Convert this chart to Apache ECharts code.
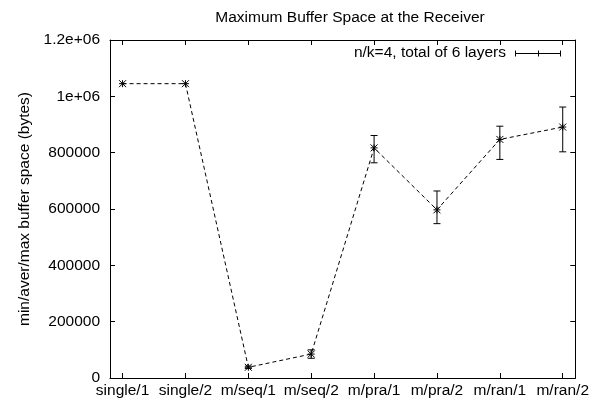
<!DOCTYPE html>
<html>
<head>
<meta charset="utf-8">
<script src="https://cdn.jsdelivr.net/npm/echarts@6/dist/echarts.min.js"></script>
<style>html,body{margin:0;padding:0;background:#fff}#c{width:592px;height:404px}</style>
</head>
<body>
<div id="c"></div>
<script>
var categories = ['single/1','single/2','m/seq/1','m/seq/2','m/pra/1','m/pra/2','m/ran/1','m/ran/2'];
var avgValues = [1045000, 1045000, 38000, 85000, 817000, 597000, 847000, 891000];
var minValues = [1045000, 1045000, 34000, 70000, 764000, 548000, 776000, 803000];
var maxValues = [1045000, 1045000, 42000, 100000, 861000, 664000, 894000, 962000];
var yTicks = [0, 200000, 400000, 600000, 800000, 1000000, 1200000];
var yTickLabels = ['0','200000','400000','600000','800000','1e+06','1.2e+06'];
var titleText = 'Maximum Buffer Space at the Receiver';
var yAxisTitle = 'min/aver/max buffer space (bytes)';
var legendText = 'n/k=4, total of 6 layers';

var FONT = 'Liberation Sans';
var FS = 15.5;
var catIdx = categories.map(function(_, i){ return i; });

var lineData = avgValues.map(function(v, i){ return [i, v]; });
var errData = avgValues.map(function(v, i){ return [i, minValues[i], maxValues[i], v]; });

function renderErr(params, api) {
  var x = api.value(0);
  var lo = api.coord([x, api.value(1)]);
  var hi = api.coord([x, api.value(2)]);
  var mid = api.coord([x, api.value(3)]);
  var cw = 3.5, s = 3.5;
  var st = {stroke: '#000', lineWidth: 1};
  var children = [];
  if (Math.abs(hi[1] - lo[1]) > 0.5) {
    children.push({type:'line', shape:{x1:lo[0], y1:lo[1], x2:hi[0], y2:hi[1]}, style:st});
    children.push({type:'line', shape:{x1:lo[0]-cw, y1:lo[1], x2:lo[0]+cw, y2:lo[1]}, style:st});
    children.push({type:'line', shape:{x1:hi[0]-cw, y1:hi[1], x2:hi[0]+cw, y2:hi[1]}, style:st});
  }
  var cx = mid[0], cy = mid[1];
  children.push({type:'line', shape:{x1:cx-s, y1:cy, x2:cx+s, y2:cy}, style:st});
  children.push({type:'line', shape:{x1:cx, y1:cy-s, x2:cx, y2:cy+s}, style:st});
  children.push({type:'line', shape:{x1:cx-s, y1:cy-s, x2:cx+s, y2:cy+s}, style:st});
  children.push({type:'line', shape:{x1:cx-s, y1:cy+s, x2:cx+s, y2:cy-s}, style:st});
  return {type:'group', children: children};
}

var chart = echarts.init(document.getElementById('c'), null, {renderer:'canvas'});
var axisLine = {show:true, onZero:false, lineStyle:{color:'#000', width:1}};
var lg = {stroke:'#000', lineWidth:1};
chart.setOption({
  animation: false,
  backgroundColor: '#fff',
  textStyle: {fontFamily: FONT},
  title: {
    text: titleText, left: 345, top: 5, textAlign: 'center',
    textStyle: {fontFamily: FONT, fontSize: FS, fontWeight: 'normal', color: '#000'}
  },
  grid: {left: 110, right: 12, top: 40, bottom: 26, containLabel: false},
  xAxis: [{
    type: 'value', min: -0.2, max: 7.2, position: 'bottom',
    axisLine: axisLine, splitLine: {show:false},
    axisTick: {show:true, inside:true, length:5, customValues: catIdx, lineStyle:{color:'#000'}},
    axisLabel: {show:true, customValues: catIdx, margin: 5, color:'#000', fontFamily: FONT, fontSize: FS,
      formatter: function(v){ return categories[Math.round(v)]; }}
  }, {
    type: 'value', min: -0.2, max: 7.2, position: 'top',
    axisLine: axisLine, splitLine: {show:false},
    axisTick: {show:true, inside:true, length:5, customValues: catIdx, lineStyle:{color:'#000'}},
    axisLabel: {show:false}
  }],
  yAxis: [{
    type: 'value', min: 0, max: 1200000, interval: 200000, position: 'left',
    name: yAxisTitle, nameLocation: 'middle', nameGap: 77, nameRotate: 90,
    nameTextStyle: {fontFamily: FONT, fontSize: FS, color: '#000'},
    axisLine: axisLine, splitLine: {show:false},
    axisTick: {show:true, inside:true, length:5, lineStyle:{color:'#000'}},
    axisLabel: {color:'#000', fontFamily: FONT, fontSize: FS, margin: 10,
      formatter: function(v){ var i = yTicks.indexOf(v); return i >= 0 ? yTickLabels[i] : ''; }}
  }, {
    type: 'value', min: 0, max: 1200000, interval: 200000, position: 'right',
    axisLine: axisLine, splitLine: {show:false},
    axisTick: {show:true, inside:true, length:5, lineStyle:{color:'#000'}},
    axisLabel: {show:false}
  }],
  graphic: [
    {type:'text', x: 506, y: 53, style:{text: legendText, font: FS + 'px ' + FONT, fill:'#000', textAlign:'right', textVerticalAlign:'middle'}},
    {type:'line', shape:{x1:515, y1:53.5, x2:561, y2:53.5}, style:lg},
    {type:'line', shape:{x1:515.5, y1:50.5, x2:515.5, y2:56.5}, style:lg},
    {type:'line', shape:{x1:560.5, y1:50.5, x2:560.5, y2:56.5}, style:lg},
    {type:'line', shape:{x1:538.5, y1:50.5, x2:538.5, y2:56.5}, style:lg}
  ],
  series: [{
    type: 'line', data: lineData, xAxisIndex: 0, yAxisIndex: 0,
    symbol: 'none', lineStyle: {color:'#000', width: 1, type: [4, 3]}, z: 2
  }, {
    type: 'custom', data: errData, xAxisIndex: 0, yAxisIndex: 0,
    encode: {x: 0, y: [1, 2, 3]}, renderItem: renderErr, z: 3
  }]
});
</script>
</body>
</html>
